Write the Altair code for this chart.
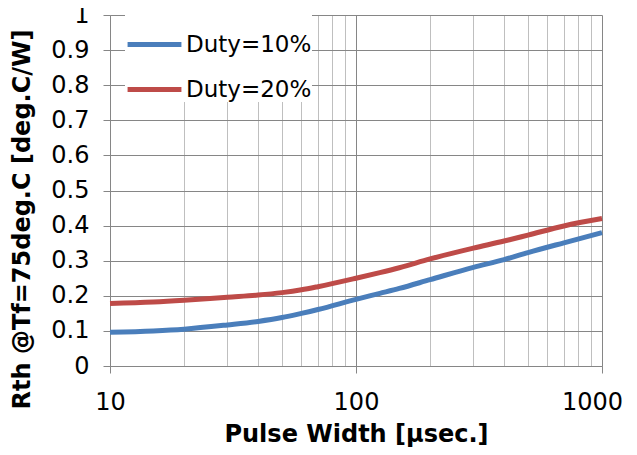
import altair as alt
import pandas as pd

pulse = [10, 15, 20, 30, 40, 50, 60, 70, 100, 125, 150, 200, 300, 400, 500, 700, 1000]
duty10 = [0.096, 0.100, 0.105, 0.117, 0.127, 0.138, 0.150, 0.161, 0.190, 0.207, 0.221, 0.246, 0.281, 0.303, 0.323, 0.351, 0.380]
duty20 = [0.178, 0.182, 0.187, 0.196, 0.202, 0.209, 0.217, 0.226, 0.250, 0.266, 0.280, 0.305, 0.336, 0.356, 0.373, 0.399, 0.420]
series = ["Duty=10%", "Duty=20%"]
colors = ["#4A7EBB", "#BE4B48"]
x_major = [10, 100, 1000]
x_minor = [20, 30, 40, 50, 60, 70, 80, 90, 200, 300, 400, 500, 600, 700, 800, 900]
y_ticks = [0, 0.1, 0.2, 0.3, 0.4, 0.5, 0.6, 0.7, 0.8, 0.9, 1]

rows = []
for p, a, b in zip(pulse, duty10, duty20):
    rows.append({"pulse": p, "value": a, "series": series[0]})
    rows.append({"pulse": p, "value": b, "series": series[1]})
df = pd.DataFrame(rows)

FONT = "DejaVu Sans"
AX = "#868686"
xscale = alt.Scale(type="log", domain=[10, 1000], nice=False)
yscale = alt.Scale(domain=[0, 1], nice=False)

minor = alt.Chart(df).mark_line(opacity=0).encode(
    x=alt.X("pulse:Q", scale=xscale,
            axis=alt.Axis(orient="bottom", values=x_minor, grid=True, gridColor="#BFBFBF",
                          gridWidth=1, labels=False, ticks=False, domain=False, title=None)),
    y=alt.Y("value:Q", scale=yscale, axis=None),
)

lines = alt.Chart(df).mark_line(strokeWidth=5, interpolate="monotone").encode(
    x=alt.X("pulse:Q", scale=xscale,
            axis=alt.Axis(orient="bottom", values=x_major, format="d", grid=True, gridColor=AX,
                          gridWidth=1, domainColor=AX, tickColor=AX, tickSize=7, labelFontSize=24,
                          labelFont=FONT, labelColor="black", labelPadding=17,
                          labelOffset={"condition": {"test": "datum.value == 1000", "value": -10}, "value": 0},
                          title="Pulse Width [μsec.]", titleFont=FONT, titleFontSize=24,
                          titleFontWeight="bold", titleColor="black", titlePadding=8,
                          labelFlush=False)),
    y=alt.Y("value:Q", scale=yscale,
            axis=alt.Axis(orient="left", values=y_ticks, format=".1~f", grid=True, gridColor=AX,
                          gridWidth=1, domainColor=AX, tickColor=AX, tickSize=7, labelFontSize=24,
                          labelFont=FONT, labelColor="black", labelPadding=14,
                          title="Rth @Tf=75deg.C [deg.C/W]", titleFont=FONT, titleFontSize=24,
                          titleFontWeight="bold", titleColor="black",
                          titleX=-76, titleY=204)),
    color=alt.Color("series:N", scale=alt.Scale(domain=series, range=colors),
                    legend=alt.Legend(title=None, orient="none", legendX=15, legendY=0,
                                      symbolType="stroke", symbolStrokeWidth=5, symbolSize=2900,
                                      labelFont=FONT, labelFontSize=23, labelColor="black",
                                      fillColor="white", padding=0, rowPadding=3,
                                      labelOffset=2)),
)

chart = alt.layer(minor, lines).resolve_axis(x="independent", y="independent").properties(
    width=492, height=351,
    autosize=alt.AutoSizeParams(type="none"),
    padding={"left": 102, "top": 7, "right": 27, "bottom": 81},
).configure_view(stroke=None)

chart.save("out.html", embed_options={"renderer": "svg", "actions": False})
